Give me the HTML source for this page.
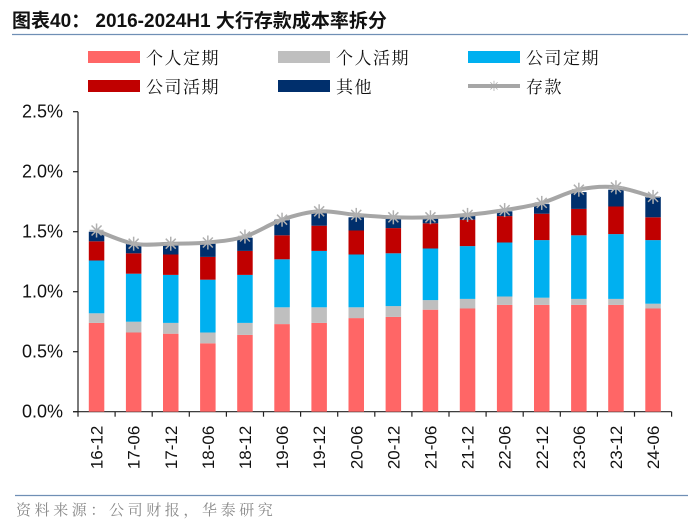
<!DOCTYPE html>
<html><head><meta charset="utf-8"><style>
body{margin:0;background:#fff;}
svg{display:block;font-family:"Liberation Sans","Noto Sans CJK SC",sans-serif;}
.cjk{font-family:"Liberation Serif","Noto Serif CJK SC",serif;}
</style></head><body>
<svg id="c" width="700" height="529" xmlns="http://www.w3.org/2000/svg">
<text x="12" y="27" font-size="19" font-weight="bold" fill="#111">图表40：  2016-2024H1 大行存款成本率拆分</text>
<line x1="12" y1="34.5" x2="688" y2="34.5" stroke="#6f8fb5" stroke-width="1.2"/>
<g id="legend"></g>
<g id="axes"></g>
<g id="bars"></g>
<g id="line"></g>
<line x1="15" y1="495.5" x2="688" y2="495.5" stroke="#6f8fb5" stroke-width="1.2"/>
<text class="cjk" x="16" y="515" font-size="15" letter-spacing="3.6" fill="#888">资料来源：公司财报，华泰研究</text>
</svg>
<script>
const categories=["16-12","17-06","17-12","18-06","18-12","19-06","19-12","20-06","20-12","21-06","21-12","22-06","22-12","23-06","23-12","24-06"];
const personalTime=[0.74,0.66,0.65,0.57,0.64,0.73,0.74,0.78,0.79,0.85,0.86,0.89,0.89,0.89,0.89,0.86];
const personalDemand=[0.08,0.09,0.09,0.09,0.10,0.14,0.13,0.09,0.09,0.08,0.08,0.07,0.06,0.05,0.05,0.04];
const corpTime=[0.44,0.40,0.40,0.44,0.40,0.40,0.47,0.44,0.44,0.43,0.44,0.45,0.48,0.53,0.54,0.53];
const corpDemand=[0.16,0.17,0.17,0.19,0.20,0.20,0.21,0.20,0.21,0.21,0.22,0.22,0.22,0.22,0.23,0.19];
const other=[0.08,0.08,0.08,0.11,0.11,0.13,0.12,0.11,0.08,0.04,0.04,0.04,0.08,0.14,0.14,0.17];
const deposit=[1.51,1.40,1.40,1.41,1.46,1.60,1.67,1.64,1.62,1.62,1.64,1.68,1.74,1.85,1.87,1.79];
const yTicks=[0,0.5,1.0,1.5,2.0,2.5];
const yTickLabels=["0.0%","0.5%","1.0%","1.5%","2.0%","2.5%"];
const seriesNames=["个人定期","个人活期","公司定期","公司活期","其他","存款"];
const NS="http://www.w3.org/2000/svg";
const X0=78,X1=671.6,Y0=411.7,PPU=120;
const step=(X1-X0)/categories.length;
const xC=i=>X0+step*(i+0.5);
const y=v=>Y0-v*PPU;
function mk(t,a,p){const e=document.createElementNS(NS,t);for(const k in a)e.setAttribute(k,a[k]);p.appendChild(e);return e;}
const colors=["#ff6666","#bfbfbf","#00b0f0","#c00000","#002f6c"];
const names=["personal-time","personal-demand","corp-time","corp-demand","other"];
const series=[personalTime,personalDemand,corpTime,corpDemand,other];
const lg=document.getElementById('legend');
for(let k=0;k<6;k++){
  const col=k%3,row=Math.floor(k/3);
  const lx=88+col*190,ly=57+row*29;
  let s;
  if(k<5){s=mk('rect',{x:lx,y:ly-6,width:52,height:12,fill:colors[k]},lg);}
  else{s=mk('line',{x1:lx,y1:ly,x2:lx+52,y2:ly,stroke:'#a6a6a6','stroke-width':4},lg);
    mk('text',{x:lx+26,y:ly+5,'text-anchor':'middle','font-size':14,fill:'#a6a6a6'},lg).textContent='✳';}
  
  
  const t=mk('text',{x:lx+58,y:ly+7,'font-size':17,'letter-spacing':1.5,fill:'#111',class:'cjk'},lg);
  t.textContent=seriesNames[k];
  
  
}
const ax=document.getElementById('axes');
let l=mk('line',{x1:X0,y1:y(2.5),x2:X0,y2:Y0,stroke:'#222','stroke-width':1.2},ax);


l=mk('line',{x1:X0-5,y1:Y0,x2:X1,y2:Y0,stroke:'#222','stroke-width':1.2},ax);


yTicks.forEach((v,i)=>{
  mk('line',{x1:X0-5,y1:y(v),x2:X0,y2:y(v),stroke:'#222','stroke-width':1.2},ax);
  const t=mk('text',{x:63,y:y(v)+6,'text-anchor':'end','font-size':18,fill:'#111'},ax);
  t.textContent=yTickLabels[i];
  
  
});
for(let i=0;i<=categories.length;i++){
  mk('line',{x1:X0+step*i,y1:Y0,x2:X0+step*i,y2:Y0+5,stroke:'#222','stroke-width':1.2},ax);
}
categories.forEach((c,i)=>{
  const t=mk('text',{x:0,y:0,'text-anchor':'end','font-size':17,fill:'#111',transform:`translate(${xC(i)+6},${Y0+14}) rotate(-90)`},ax);
  t.textContent=c;
  
  
});
const bg=document.getElementById('bars');
const bw=15.5;
categories.forEach((c,i)=>{
  let base=0;
  series.forEach((s,k)=>{
    const r=mk('rect',{x:xC(i)-bw/2,y:y(base+s[i]),width:bw,height:s[i]*PPU,fill:colors[k]},bg);
    
    
    base+=s[i];
  });
});
const lgp=document.getElementById('line');
const pts=deposit.map((v,i)=>[xC(i),y(v)]);
let d='M'+pts[0].join(',');
for(let i=1;i<pts.length;i++){
  const p0=pts[Math.max(i-2,0)],p1=pts[i-1],p2=pts[i],p3=pts[Math.min(i+1,pts.length-1)];
  const c1=[p1[0]+(p2[0]-p0[0])/6,p1[1]+(p2[1]-p0[1])/6],c2=[p2[0]-(p3[0]-p1[0])/6,p2[1]-(p3[1]-p1[1])/6];
  d+=` C${c1.join(',')} ${c2.join(',')} ${p2.join(',')}`;
}
const path=mk('path',{d:d,fill:'none',stroke:'#a6a6a6','stroke-width':4},lgp);


pts.forEach((p,i)=>{
  const g=mk('g',{stroke:'#b0b0b0','stroke-width':1.5},lgp);
  
  
  const r=7;
  mk('line',{x1:p[0]-r,y1:p[1],x2:p[0]+r,y2:p[1]},g);
  mk('line',{x1:p[0],y1:p[1]-r,x2:p[0],y2:p[1]+r},g);
  mk('line',{x1:p[0]-5,y1:p[1]-5,x2:p[0]+5,y2:p[1]+5},g);
  mk('line',{x1:p[0]-5,y1:p[1]+5,x2:p[0]+5,y2:p[1]-5},g);
});
</script>
</body></html>
